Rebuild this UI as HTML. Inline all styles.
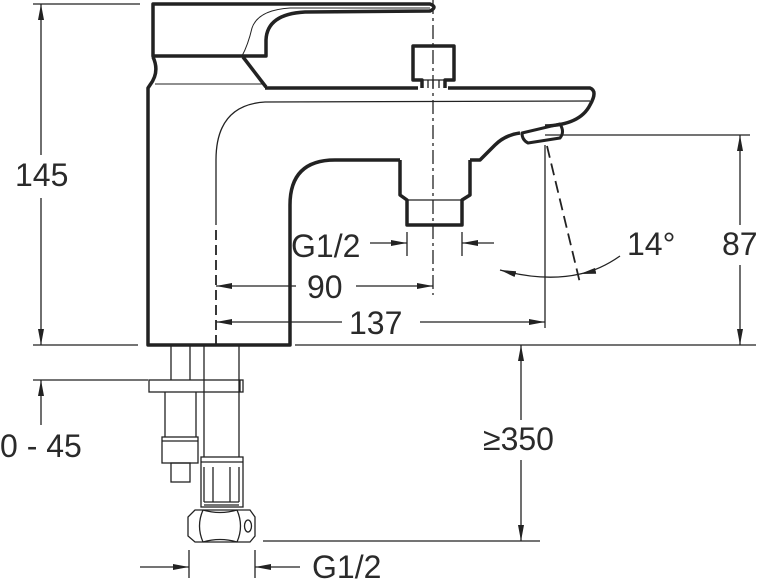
<!DOCTYPE html>
<html><head><meta charset="utf-8"><style>
html,body{margin:0;padding:0;background:#fff;width:762px;height:580px;overflow:hidden}
svg{display:block}
text{font-family:"Liberation Sans",sans-serif;fill:#2a2a2a}
</style></head><body>
<svg width="762" height="580" viewBox="0 0 762 580" xmlns="http://www.w3.org/2000/svg">
<defs>
<marker id="b" viewBox="0 0 16 6" refX="16" refY="3" markerWidth="16" markerHeight="6" orient="auto-start-reverse" markerUnits="userSpaceOnUse"><path d="M0,0 L16,3 L0,6 z" fill="#222"/></marker>
</defs>
<g fill="none" stroke="#222" stroke-width="3.5" stroke-linejoin="round">
<path d="M153,56 L153,4 L430,4 Q438,7 430,11 L305,12 Q267,14 266,40 L266,56 Z"/>
<path d="M243,57 L266,87"/>
<path d="M153,57 Q160,72 150,85 L148,88 L148,345 L290,345 L290,205 Q290,160 335,160 L400,160"/>
<path d="M265,88 L418,88 M448,88 L590,88 Q598,91 590,105 Q580,125 545,126"/>
<path d="M470,160 L480,160 Q490,150 495,145 Q505,135 520,133"/>
<path d="M522,133 L560,124 Q565,132 560,138 L528,143 Q522,140 522,133 Z" stroke-width="3"/>
<path d="M422,88 L422,80 L413,80 L413,46 L454,46 L454,80 L445,80 L445,88"/>
<path d="M400,160 L400,195 L407,200 L407,225 L462,225 L462,200 L470,195 L470,160"/>
</g>
<g fill="none" stroke="#222" stroke-width="1.3">
<path d="M155,56 L266,56" stroke-width="1"/>
<path d="M155,84 L263,84" stroke-width="1"/>
<path d="M242,56 Q248,45 252,28 Q258,10 290,8 L430,8" stroke-width="1"/>
<path d="M216,225 L216,160 Q216,105 265,102 L590,101"/>
<path d="M407,200 L462,200 M422,80 L445,80 M428,80 L428,88 M433,80 L433,88 M439,80 L439,88"/>
<path d="M171,345 V380 M190,345 V380 M204,345 V457 M239,345 V457"/>
<rect x="149" y="380" width="94" height="12"/>
<path d="M240,380 V392"/>
<path d="M165,392 V437 M196,392 V437"/>
<rect x="162" y="437" width="36" height="26"/><path d="M162,441 H198"/>
<rect x="171" y="463" width="19" height="19"/>
<rect x="201" y="457" width="42" height="50"/><path d="M201,462 H243 M204,467 V502 M239,467 V502 M213,467 V502 M230,467 V502 M204,502 H239 M204,505 H239"/>
<path d="M195,510 L250,510 L255,517 L255,536 L250,542 L195,542 L188,536 L188,517 Z"/>
<path d="M203,510 Q196,526 203,542 M237,510 Q244,526 237,542 M203,510 Q220,515 237,510 M203,542 Q220,537 237,542"/>
<ellipse cx="248" cy="526" rx="3.5" ry="6"/>
<path d="M33,4 H140 M33,345 H138 M33,380 H148 M295,345 H756 M545,135 H750 M263,541 H540"/>
<path d="M41,4 V155" marker-start="url(#b)"/>
<path d="M41,198 V345" marker-end="url(#b)"/>
<path d="M41,425 V380" marker-end="url(#b)"/>
<path d="M740,135 V225" marker-start="url(#b)"/>
<path d="M740,265 V345" marker-end="url(#b)"/>
<path d="M521,345 V420" marker-start="url(#b)"/>
<path d="M521,460 V541" marker-end="url(#b)"/>
<path d="M545,145 V328"/>
<path d="M216,286 H296" marker-start="url(#b)"/>
<path d="M356,286 H433" marker-end="url(#b)"/>
<path d="M216,322 H342" marker-start="url(#b)"/>
<path d="M420,322 H545" marker-end="url(#b)"/>
<path d="M407,232 V256 M462,232 V256"/>
<path d="M370,243 H407" marker-end="url(#b)"/>
<path d="M494,243 H462" marker-end="url(#b)"/>
<path d="M189,550 V578 M255,550 V578"/>
<path d="M140,567 H189" marker-end="url(#b)"/>
<path d="M300,567 H255" marker-end="url(#b)"/>
<path d="M500,270 Q545,282 580,274" marker-start="url(#b)"/>
<path d="M620,256 Q600,270 580,274" marker-end="url(#b)"/>
</g>
<g stroke="#222" stroke-width="1.8" fill="none" stroke-dasharray="12,6">
<path d="M433,0 V295" stroke-width="1.3" stroke-dasharray="14,4,3,4"/>
<path d="M216,230 V350" stroke-dasharray="10,5"/>
<path d="M547,146 L580,283"/>
</g>
<g font-size="32">
<text x="15" y="186">145</text>
<text x="291" y="257">G1/2</text>
<text x="307" y="298">90</text>
<text x="349" y="334">137</text>
<text x="627" y="255">14°</text>
<text x="722" y="255">87</text>
<text x="483" y="450">≥350</text>
<text x="0" y="457">0 - 45</text>
<text x="312" y="578">G1/2</text>
</g>
</svg>
</body></html>
